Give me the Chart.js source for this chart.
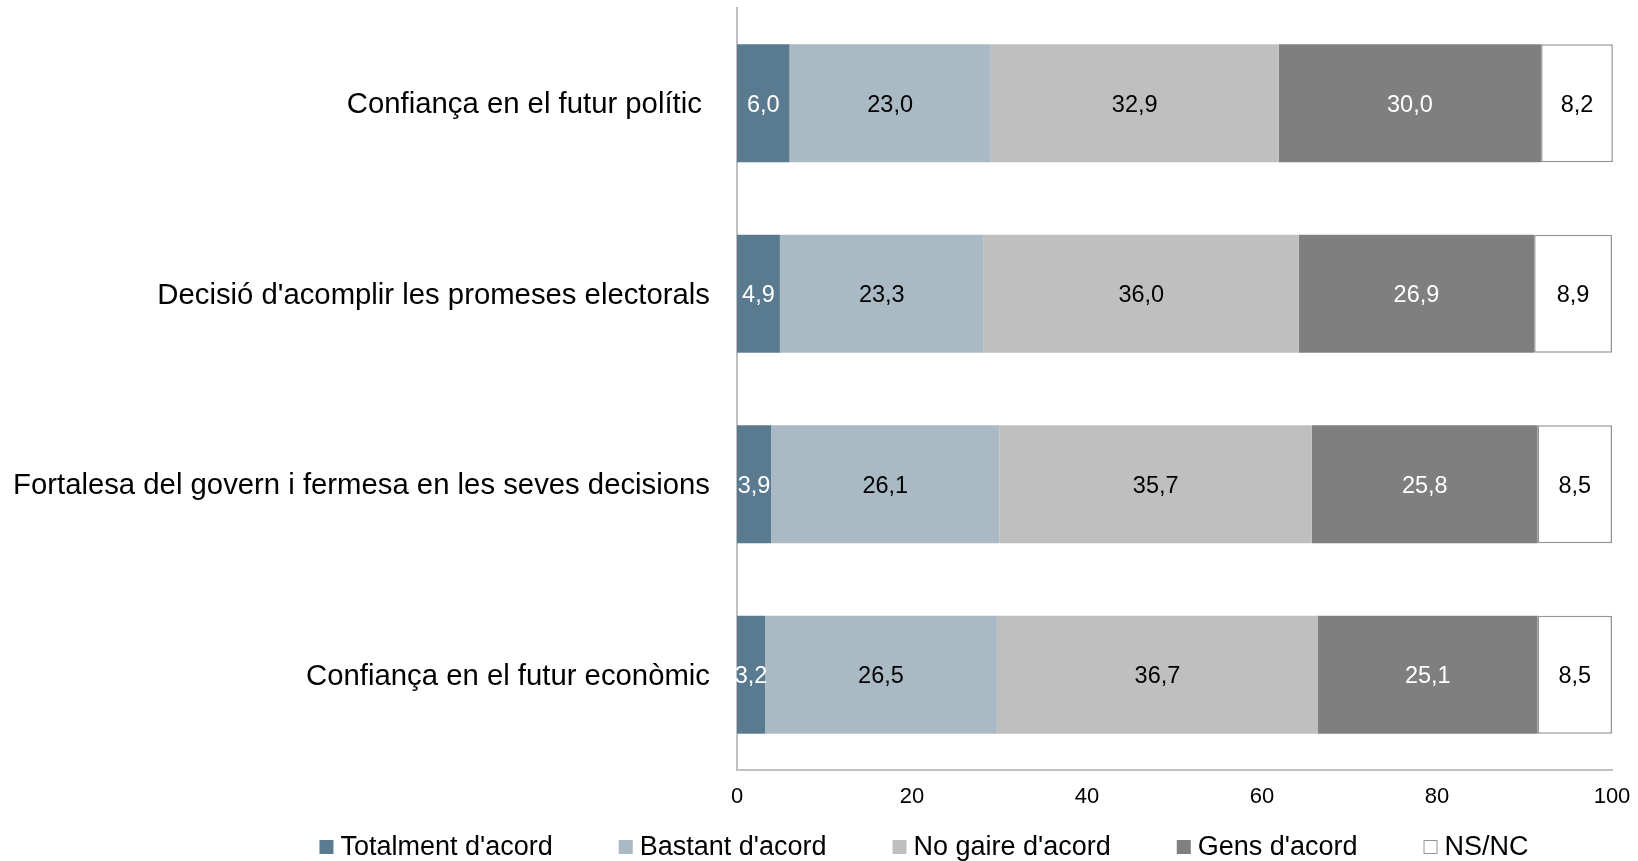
<!DOCTYPE html>
<html>
<head>
<meta charset="utf-8">
<script src="https://cdn.jsdelivr.net/npm/chart.js@4.4.1/dist/chart.umd.min.js"></script>
<style>
    html, body { margin: 0; padding: 0; background: #fff; }
    #wrap { width: 1638px; height: 861px; }
</style>
</head>
<body>
<div id="wrap"><canvas id="barChart"></canvas></div>
<script>
// Valoració del govern (%)
const categories = [
    'Confiança en el futur polític ',
    "Decisió d'acomplir les promeses electorals",
    'Fortalesa del govern i fermesa en les seves decisions',
    'Confiança en el futur econòmic'
];
const seriesNames = ["Totalment d'acord", "Bastant d'acord", "No gaire d'acord", "Gens d'acord", 'NS/NC'];
const totalmentAcord = [6.0, 4.9, 3.9, 3.2];
const bastantAcord = [23.0, 23.3, 26.1, 26.5];
const noGaireAcord = [32.9, 36.0, 35.7, 36.7];
const gensAcord = [30.0, 26.9, 25.8, 25.1];
const nsnc = [8.2, 8.9, 8.5, 8.5];
const xTicks = [0, 20, 40, 60, 80, 100];

const colors = ['#5A7B8F', '#AABAC5', '#BFBFBF', '#7F7F7F', '#FFFFFF'];
const labelColors = ['#FFFFFF', '#000000', '#000000', '#FFFFFF', '#000000'];
const fontFamily = '"Liberation Sans", Arial, sans-serif';

Chart.defaults.font.family = fontFamily;
Chart.defaults.color = '#000';

// value printed in the middle of every segment, with a decimal comma
const valueLabels = {
    id: 'valueLabels',
    afterDatasetsDraw(chart) {
        const ctx = chart.ctx;
        ctx.save();
        ctx.font = '23.5px ' + fontFamily;
        ctx.textAlign = 'center';
        ctx.textBaseline = 'middle';
        chart.data.datasets.forEach((ds, i) => {
            chart.getDatasetMeta(i).data.forEach((bar, j) => {
                const p = bar.getProps(['x', 'y', 'base'], true);
                ctx.fillStyle = labelColors[i];
                ctx.fillText(ds.data[j].toFixed(1).replace('.', ','), (p.x + p.base) / 2, p.y + 2);
            });
        });
        ctx.restore();
    }
};

// legend row under the axis
const bottomLegend = {
    id: 'bottomLegend',
    afterDraw(chart) {
        const ctx = chart.ctx;
        const box = 14, gap = 7, spacing = 66, top = 840, baseline = 855;
        ctx.save();
        ctx.font = '27px ' + fontFamily;
        ctx.textBaseline = 'alphabetic';
        const items = chart.data.datasets;
        const widths = items.map(ds => ctx.measureText(ds.label).width);
        const total = widths.reduce((a, w) => a + box + gap + w, 0) + spacing * (items.length - 1);
        let x = 924 - total / 2;
        items.forEach((ds, i) => {
            ctx.fillStyle = ds.backgroundColor;
            ctx.fillRect(x, top, box, 14);
            if (ds.borderWidth) {
                ctx.strokeStyle = ds.borderColor;
                ctx.lineWidth = 1;
                ctx.strokeRect(x + 0.5, top + 0.5, box - 1, 13);
            }
            ctx.fillStyle = '#000';
            ctx.fillText(ds.label, x + box + gap, baseline);
            x += box + gap + widths[i] + spacing;
        });
        ctx.restore();
    }
};

const series = [totalmentAcord, bastantAcord, noGaireAcord, gensAcord, nsnc];

const barChart = new Chart(document.getElementById('barChart'), {
    type: 'bar',
    data: {
        labels: categories,
        datasets: series.map((values, i) => ({
            label: seriesNames[i],
            data: values,
            backgroundColor: colors[i],
            borderColor: i === 4 ? '#949494' : colors[i],
            borderWidth: i === 4 ? 1.5 : 0,
            borderSkipped: false,
            clip: i === 4 ? false : undefined,
            barPercentage: 0.62,
            categoryPercentage: 1.0
        }))
    },
    options: {
        indexAxis: 'y',
        responsive: true,
        maintainAspectRatio: false,
        animation: false,
        layout: {
            padding: { top: 8, right: 26, bottom: 36.6, left: 0 }
        },
        plugins: {
            legend: { display: false },
            tooltip: { enabled: false }
        },
        scales: {
            x: {
                stacked: true,
                min: 0,
                max: 100,
                afterBuildTicks(scale) {
                    scale.ticks = xTicks.map(v => ({ value: v }));
                },
                afterFit(scale) {
                    scale.paddingLeft = 0;
                    scale.paddingRight = 0;
                },
                grid: { display: false, drawTicks: false },
                border: { color: '#C0C0C0', width: 2 },
                ticks: { padding: 14, color: '#000', font: { size: 22 } }
            },
            y: {
                stacked: true,
                afterFit(scale) {
                    scale.width = 737;
                    scale.paddingTop = 0;
                    scale.paddingBottom = 0;
                },
                grid: { display: false, drawTicks: false },
                border: { color: '#C0C0C0', width: 2 },
                ticks: { padding: 27, labelOffset: 2, color: '#000', font: { size: 29.3 } }
            }
        }
    },
    plugins: [valueLabels, bottomLegend]
});
</script>
</body>
</html>
